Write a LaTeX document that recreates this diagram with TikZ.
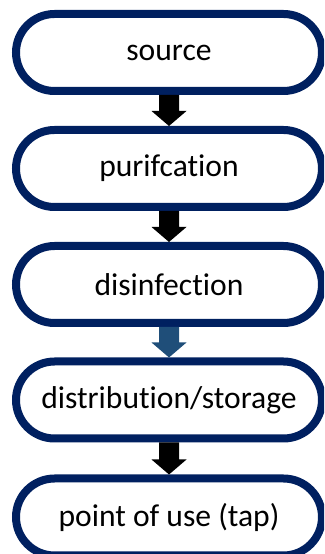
\documentclass[tikz,border=0pt]{standalone}
\usepackage{fontspec}
\setmainfont[Ligatures=NoCommon]{Carlito}
\usetikzlibrary{calc}
\definecolor{navy}{HTML}{002060}
\definecolor{steel}{HTML}{1F4E79}
\tikzset{
  flowbox/.style={draw=navy, line width=8pt, fill=white, rounded corners=38.5pt,
    minimum width=306pt, minimum height=77pt, outer sep=4pt, inner sep=0pt,
    font=\fontsize{31.6}{37}\selectfont, text=black},
}
\newcommand{\blockarrow}[3]{%
  \fill[#3] ($(#1.south)+(-10pt,0)$) -- ($(#1.south)+(10pt,0)$) --
    ($(#2.north)+(10pt,15pt)$) -- ($(#2.north)+(17.5pt,15pt)$) --
    (#2.north) -- ($(#2.north)+(-17.5pt,15pt)$) -- ($(#2.north)+(-10pt,15pt)$) -- cycle;}
\begin{document}
\begin{tikzpicture}[x=1pt,y=1pt]
\useasboundingbox (0,0) rectangle (324,554);
\clip (0,0) rectangle (324,554);
\node[flowbox] (s1) at (169,501.5) {source};
\node[flowbox] (s2) at (169,385.5) {purifcation};
\node[flowbox] (s3) at (169,269.5) {disinfection};
\node[flowbox] (s4) at (169,154) {distribution/storage};
\node[flowbox] (s5) at (169,37) {point of use (tap)};
\blockarrow{s1}{s2}{black}
\blockarrow{s2}{s3}{black}
\blockarrow{s3}{s4}{steel}
\blockarrow{s4}{s5}{black}
\end{tikzpicture}
\end{document}
